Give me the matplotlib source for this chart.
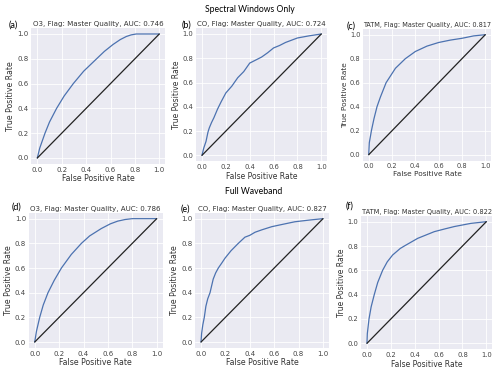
import matplotlib
matplotlib.use("Agg")
import matplotlib.pyplot as plt
import seaborn as sns

sns.set_style("darkgrid")
plt.rcParams['font.family'] = ['DejaVu Sans']

# ---- data ----
titles = ["O3, Flag: Master Quality, AUC: 0.746",
          "CO, Flag: Master Quality, AUC: 0.724",
          "TATM, Flag: Master Quality, AUC: 0.817",
          "O3, Flag: Master Quality, AUC: 0.786",
          "CO, Flag: Master Quality, AUC: 0.827",
          "TATM, Flag: Master Quality, AUC: 0.822"]
panel_labels = ["(a)", "(b)", "(c)", "(d)", "(e)", "(f)"]
row_titles = ["Spectral Windows Only", "Full Waveband"]
tick_vals = [0.0, 0.2, 0.4, 0.6, 0.8, 1.0]
tick_labels = ["0.0", "0.2", "0.4", "0.6", "0.8", "1.0"]

fpr_a = [0, 0.02, 0.063, 0.1, 0.158, 0.22, 0.295, 0.38, 0.486, 0.55, 0.62, 0.68, 0.73, 0.77, 0.81, 0.9, 1.0]
tpr_a = [0, 0.08, 0.2, 0.29, 0.4, 0.5, 0.6, 0.7, 0.8, 0.86, 0.915, 0.955, 0.98, 0.993, 1.0, 1.0, 1.0]

fpr_b = [0, 0.015, 0.034, 0.05, 0.061, 0.08, 0.1, 0.13, 0.16, 0.2, 0.25, 0.3, 0.35, 0.4,
         0.45, 0.5, 0.55, 0.6, 0.65, 0.7, 0.8, 0.9, 1.0]
tpr_b = [0, 0.06, 0.115, 0.19, 0.225, 0.27, 0.31, 0.38, 0.44, 0.514, 0.57, 0.64, 0.69, 0.76,
         0.785, 0.81, 0.845, 0.885, 0.905, 0.93, 0.967, 0.985, 1.0]

fpr_c = [0, 0.005, 0.023, 0.045, 0.071, 0.1, 0.149, 0.229, 0.314, 0.4, 0.5, 0.6, 0.7, 0.8, 0.9, 1.0]
tpr_c = [0, 0.1, 0.2, 0.3, 0.4, 0.48, 0.6, 0.72, 0.8, 0.86, 0.905, 0.935, 0.955, 0.97, 0.99, 1.0]

fpr_d = [0, 0.015, 0.041, 0.07, 0.109, 0.16, 0.219, 0.3, 0.383, 0.45, 0.546, 0.62, 0.68, 0.74, 0.8, 0.9, 1.0]
tpr_d = [0, 0.09, 0.2, 0.3, 0.4, 0.5, 0.6, 0.71, 0.8, 0.86, 0.92, 0.958, 0.98, 0.993, 1.0, 1.0, 1.0]

fpr_e = [0, 0.005, 0.015, 0.027, 0.04, 0.055, 0.074, 0.1, 0.12, 0.142, 0.17, 0.197, 0.246,
         0.306, 0.36, 0.4, 0.443, 0.5, 0.58, 0.65, 0.77, 0.9, 1.0]
tpr_e = [0, 0.07, 0.14, 0.2, 0.29, 0.35, 0.4, 0.51, 0.56, 0.6, 0.64, 0.68, 0.74,
         0.8, 0.85, 0.865, 0.89, 0.91, 0.935, 0.95, 0.975, 0.99, 1.0]

fpr_f = [0, 0.003, 0.017, 0.035, 0.061, 0.09, 0.131, 0.17, 0.215, 0.279, 0.313, 0.425,
         0.564, 0.65, 0.732, 0.87, 1.0]
tpr_f = [0, 0.08, 0.2, 0.3, 0.4, 0.5, 0.6, 0.67, 0.726, 0.78, 0.8, 0.863,
         0.918, 0.94, 0.96, 0.986, 1.0]

fprs = [fpr_a, fpr_b, fpr_c, fpr_d, fpr_e, fpr_f]
tprs = [tpr_a, tpr_b, tpr_c, tpr_d, tpr_e, tpr_f]
diag = [0.0, 1.0]

# ---- layout (pixel boxes: left, top, right, bottom) ----
W, H = 500, 372
boxes = [(31.2, 27.8, 165.4, 164.2),
         (196.0, 27.9, 327.3, 161.4),
         (362.9, 28.7, 491.1, 160.7),
         (28.6, 212.5, 162.8, 348.2),
         (194.9, 212.5, 329.1, 348.2),
         (361.0, 215.6, 492.3, 349.4)]
label_pos = [(13.3, 25.5), (186.7, 25.5), (351.3, 26.3),
             (17.0, 207.0), (185.0, 209.0), (350.0, 206.3)]
title_sizes = [5.1, 5.05, 4.7, 5.15, 5.05, 4.8]
text_scale = [1.0, 0.98, 0.955, 1.0, 1.0, 0.975]

fig = plt.figure(figsize=(W / 100, H / 100), dpi=100)
blue = '#4C72B0'
for i in range(6):
    l, t, r, b = boxes[i]
    s = text_scale[i]
    ax = fig.add_axes([l / W, 1 - b / H, (r - l) / W, (b - t) / H])
    ax.set_facecolor('#EAEAF2')
    ax.plot(fprs[i], tprs[i], color=blue, lw=0.9)
    ax.plot(diag, diag, color='#222222', lw=0.9)
    ax.set_xlim(-0.05, 1.05)
    ax.set_ylim(-0.05, 1.05)
    ax.set_xticks(tick_vals)
    ax.set_xticklabels(tick_labels)
    ax.set_yticks(tick_vals)
    ax.set_yticklabels(tick_labels)
    ax.tick_params(labelsize=5.0 * s, pad=1.8, length=0, colors='#444444')
    ax.grid(True, color='white', lw=0.6)
    for sp in ax.spines.values():
        sp.set_visible(False)
    ax.set_xlabel("False Positive Rate", fontsize=5.6 * s, labelpad=1.2, color='#333333')
    ax.set_ylabel("True Positive Rate", fontsize=5.6 * s, labelpad=1.5, color='#333333')
    ax.set_title(titles[i], fontsize=title_sizes[i], pad=1.2, color='#333333')
    x, y = label_pos[i]
    fig.text(x / W, 1 - y / H, panel_labels[i], fontsize=6.5, family='Lato',
             ha='center', va='center', color='black')

fig.text(249.7 / W, 1 - 9.3 / H, row_titles[0], fontsize=6.2, family='Lato',
         ha='center', va='center', color='black')
fig.text(254 / W, 1 - 191 / H, row_titles[1], fontsize=6.2, family='Lato',
         ha='center', va='center', color='black')

fig.savefig("out.png", dpi=100)
